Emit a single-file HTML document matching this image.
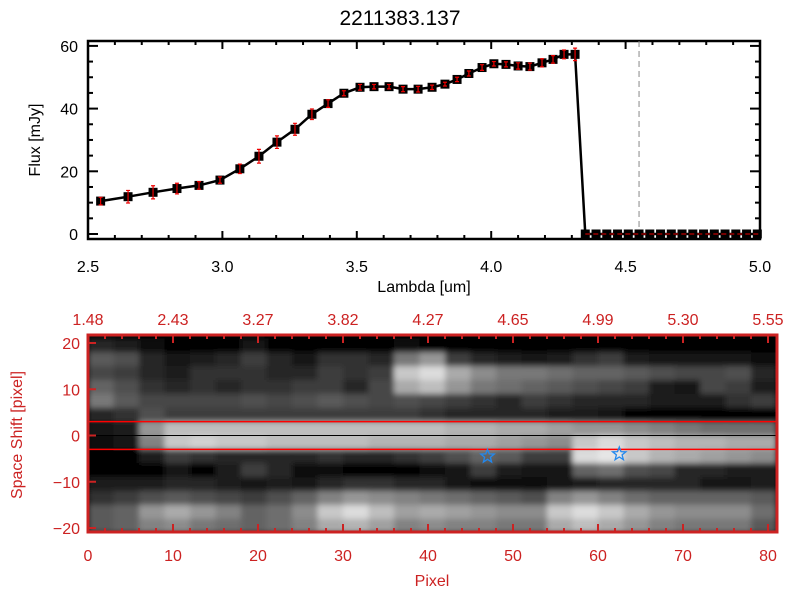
<!DOCTYPE html>
<html><head><meta charset="utf-8"><style>
body{margin:0;background:#fff}
svg{display:block;font-family:"Liberation Sans",sans-serif}
</style></head><body>
<svg id="c" width="800" height="600"></svg>
<script>
const lam=[2.547,2.649,2.742,2.831,2.913,2.991,3.065,3.136,3.203,3.27,3.333,3.393,3.452,3.512,3.564,3.62,3.672,3.728,3.78,3.828,3.873,3.917,3.966,4.01,4.055,4.1,4.144,4.189,4.23,4.271,4.312,4.35,4.39,4.43,4.47,4.51,4.55,4.59,4.63,4.67,4.71,4.75,4.79,4.83,4.87,4.91,4.95,4.99];
const flux=[10.5,11.9,13.3,14.5,15.5,17.2,20.8,24.8,29.3,33.4,38.2,41.6,44.9,46.8,47.0,47.0,46.2,46.2,46.8,47.8,49.3,51.2,53.1,54.3,54.1,53.6,53.4,54.6,55.7,57.3,57.3,0,0,0,0,0,0,0,0,0,0,0,0,0,0,0,0,0];
const ferr=[1.2,2,2.1,1.7,1.2,1.0,1.5,2.2,2.0,1.9,1.7,1.2,0.8,0.9,0.7,0.7,0.8,0.9,0.7,0.6,0.7,0.8,0.9,0.7,0.8,1.0,1.1,1.3,1.2,1.4,2.0,0,0,0,0,0,0,0,0,0,0,0,0,0,0,0,0,0];
const xTicks=[2.5,3.0,3.5,4.0,4.5,5.0];
const xTickLabels=["2.5","3.0","3.5","4.0","4.5","5.0"];
const yTicks=[0,20,40,60];
const cutLambda=4.55;
const pixTicks=[0,10,20,30,40,50,60,70,80];
const lamTopLabels=["1.48","2.43","3.27","3.82","4.27","4.65","4.99","5.30","5.55"];
const shiftTicks=[20,10,0,-10,-20];
const stars=[[47,-4.5],[62.5,-4]];
const heat=[
[40,30,10,0,0,0,20,0,0,0,0,0,10,0,0,0,0,0,0,0,0,0,0,0,0,0,0],
[90,80,40,20,30,40,60,40,20,50,50,40,120,150,60,40,30,20,30,50,60,30,20,20,20,20,10],
[70,60,40,30,50,50,50,40,40,60,50,60,200,220,170,140,120,120,110,100,100,90,80,70,70,80,40],
[100,80,50,40,50,40,50,50,60,60,40,70,170,190,150,120,110,100,90,80,70,60,30,20,70,60,30],
[120,90,70,70,70,70,80,70,80,90,80,70,80,70,60,50,40,60,50,40,40,40,30,30,30,50,60],
[40,50,80,60,60,60,60,60,60,60,60,60,60,50,40,40,40,40,30,30,20,0,0,0,0,0,0],
[20,30,150,190,190,190,190,190,190,190,190,190,190,190,180,180,170,170,160,150,150,140,130,120,110,110,110],
[10,20,130,200,210,200,200,190,190,190,190,180,180,180,170,170,160,150,140,200,220,200,190,180,180,170,170],
[0,0,30,60,50,40,40,40,40,50,40,40,50,60,80,100,90,60,60,220,230,200,180,170,160,150,140],
[0,0,0,20,0,30,60,40,10,10,0,0,0,10,20,60,30,20,20,100,110,80,70,40,40,30,30],
[30,30,30,40,40,30,20,30,20,40,50,50,40,40,20,10,10,10,20,30,40,40,40,40,20,20,30],
[50,60,80,90,80,70,60,80,100,130,150,140,130,120,110,100,90,80,130,150,130,110,100,100,100,100,90],
[90,100,150,170,150,130,100,110,140,200,220,190,160,170,160,150,140,140,200,220,200,170,150,140,140,140,110],
[90,100,130,140,120,110,100,110,130,170,180,160,130,140,130,130,120,120,170,190,170,150,130,120,120,120,90]];

const NS="http://www.w3.org/2000/svg";
const svg=document.getElementById('c');
function mk(t,a,p){const e=document.createElementNS(NS,t);for(const k in a)e.setAttribute(k,a[k]);(p||svg).appendChild(e);return e;}
function tx(s,x,y,a){const e=mk('text',Object.assign({x:x,y:y},a));e.textContent=s;return e;}
// top panel scales
const X=v=>88+(v-2.5)*268.8;
const Y=v=>234-v*3.135;
const RED="#cc2222";
// title
let e=tx("2211383.137",400,25,{"font-size":21,"text-anchor":"middle"});

// top axes box
e=mk('rect',{x:88,y:41,width:672,height:198,fill:"none",stroke:"#000","stroke-width":2.5});

for(let v=2.5;v<=5.001;v+=0.1){const big=Math.abs(v*2-Math.round(v*2))<1e-6;const L=big?8:4;
 mk('line',{x1:X(v),x2:X(v),y1:239,y2:239-L,stroke:"#000","stroke-width":2});
 mk('line',{x1:X(v),x2:X(v),y1:41,y2:41+L,stroke:"#000","stroke-width":2});}
for(let v=0;v<=60;v+=5){const big=v%20===0;const L=big?10:5;
 mk('line',{x1:88,x2:88+L,y1:Y(v),y2:Y(v),stroke:"#000","stroke-width":2});
 mk('line',{x1:760,x2:760-L,y1:Y(v),y2:Y(v),stroke:"#000","stroke-width":2});}
xTicks.forEach((v,i)=>{const t=tx(xTickLabels[i],X(v),272,{"font-size":16,"text-anchor":"middle"});
 });
yTicks.forEach(v=>{const t=tx(String(v),78,Y(v)+6,{"font-size":16,"text-anchor":"end"});
 });
e=tx("Lambda [um]",424,292,{"font-size":16,"text-anchor":"middle"});

e=tx("Flux [mJy]",0,0,{"font-size":16,"text-anchor":"middle",transform:"translate(40,140) rotate(-90)"});

// cut line
e=mk('line',{x1:X(cutLambda),x2:X(cutLambda),y1:41,y2:239,stroke:"#888","stroke-width":1,"stroke-dasharray":"6,4"});

// flux line
e=mk('polyline',{points:lam.map((l,i)=>X(l)+","+Y(flux[i])).join(" "),fill:"none",stroke:"#000","stroke-width":2.5});

lam.forEach((l,i)=>{
 const r=mk('rect',{x:X(l)-4.5,y:Y(flux[i])-4.5,width:9,height:9,fill:"#000"});
 
 if(ferr[i]>0){const g=mk('path',{d:`M${X(l)},${Y(flux[i]+ferr[i])}V${Y(flux[i]-ferr[i])}M${X(l)-2},${Y(flux[i]+ferr[i])}h4M${X(l)-2},${Y(flux[i]-ferr[i])}h4`,stroke:"#e00",fill:"none","stroke-width":1.2});
 }
});
e=mk('line',{x1:X(lam[31]),x2:760,y1:Y(0),y2:Y(0),stroke:"#e00","stroke-width":1,"stroke-dasharray":"5,3"});


// bottom panel
const PX=p=>88+p*8.5;
const SY=s=>435.5-s*4.625;
const defs=mk('defs',{});
const cp=mk('clipPath',{id:"cl"},defs);mk('rect',{x:88,y:335,width:689,height:197},cp);
const f=mk('filter',{id:"bl",x:"-5%",y:"-5%",width:"110%",height:"110%"},defs);mk('feGaussianBlur',{stdDeviation:"3"},f);
const hg=mk('g',{"clip-path":"url(#cl)"});

mk('rect',{x:88,y:335,width:689,height:197,fill:"#000"},hg);
const inner=mk('g',{filter:"url(#bl)"},hg);
heat.forEach((row,r)=>row.forEach((v,c)=>{
 const s0=21-r*3;
 const cell=mk('rect',{x:PX(c*3),y:SY(s0),width:8.5*3+0.5,height:4.625*3+0.5,fill:`rgb(${v},${v},${v})`},inner);
 
}));
e=mk('line',{x1:88,x2:777,y1:SY(0),y2:SY(0),stroke:"#000","stroke-width":1});

[3,-3].forEach(s=>{const l=mk('line',{x1:88,x2:777,y1:SY(s),y2:SY(s),stroke:"#f00","stroke-width":1.5});
 });
stars.forEach(([p,s])=>{const cx=PX(p),cy=SY(s),R=7,r=3;let pts=[];
 for(let k=0;k<10;k++){const a=-Math.PI/2+k*Math.PI/5;const rr=k%2?r:R;pts.push((cx+rr*Math.cos(a)).toFixed(1)+","+(cy+rr*Math.sin(a)).toFixed(1));}
 const st=mk('polygon',{points:pts.join(" "),fill:"none",stroke:"#2288ee","stroke-width":1.3});
 });
e=mk('rect',{x:88,y:335,width:689,height:197,fill:"none",stroke:RED,"stroke-width":3});

for(let p=0;p<=81;p+=2){const big=p%10===0;const L=big?8:4;
 mk('line',{x1:PX(p),x2:PX(p),y1:532,y2:532-L,stroke:RED,"stroke-width":2});
 mk('line',{x1:PX(p),x2:PX(p),y1:335,y2:335+L,stroke:RED,"stroke-width":2});}
shiftTicks.forEach(s=>{mk('line',{x1:88,x2:96,y1:SY(s),y2:SY(s),stroke:RED,"stroke-width":2});
 const t=tx(String(s).replace('-','\u2212'),80,SY(s)+6,{"font-size":16,"text-anchor":"end",fill:RED});
 });
pixTicks.forEach((p,i)=>{
 const t=tx(String(p),PX(p),561,{"font-size":16,"text-anchor":"middle",fill:RED});
 
 const u=tx(lamTopLabels[i],PX(p),325,{"font-size":16,"text-anchor":"middle",fill:RED});
 });
e=tx("Pixel",432,586,{"font-size":16,"text-anchor":"middle",fill:RED});

e=tx("Space Shift [pixel]",0,0,{"font-size":16,"text-anchor":"middle",fill:RED,transform:"translate(22,435) rotate(-90)"});

</script>
</body></html>
